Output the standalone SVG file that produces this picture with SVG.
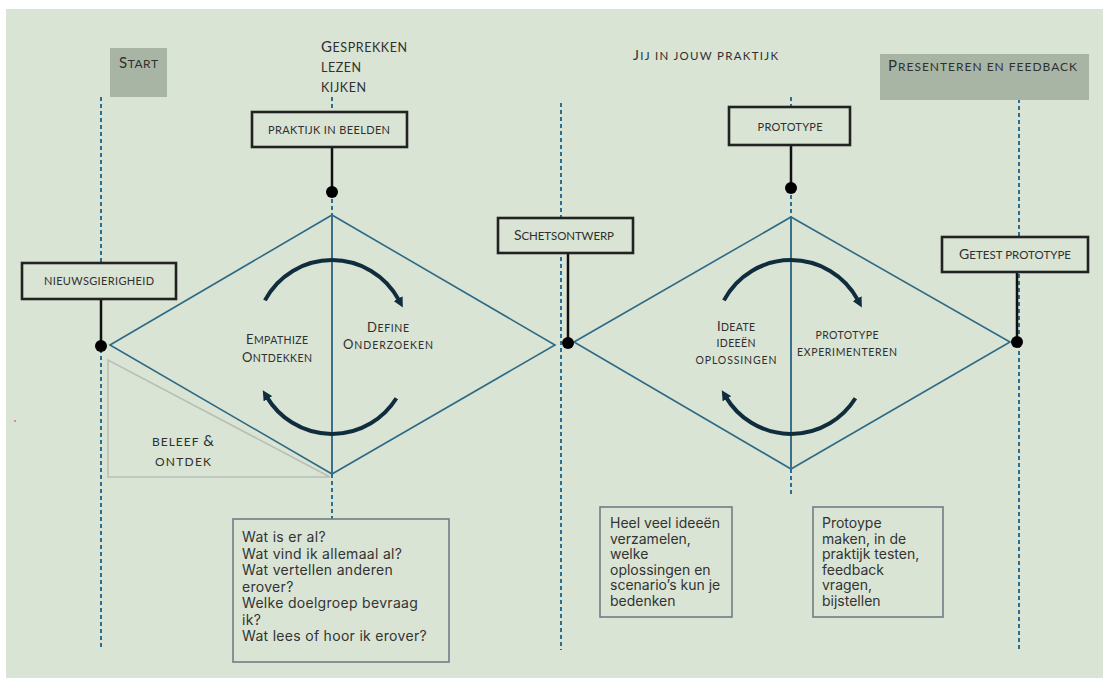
<svg xmlns="http://www.w3.org/2000/svg" width="1103" height="678" viewBox="0 0 1103 678">
<style>
.bg{fill:#d9e4d4}
.dash{stroke:#2b6f92;stroke-width:2;stroke-dasharray:4 3;fill:none}
.dia{stroke:#2d6a86;stroke-width:1.6;fill:none}
.axis{stroke:#3a7089;stroke-width:2;fill:none}
.conn{stroke:#111;stroke-width:2.5;fill:none}
.dot{fill:#000}
.box{fill:#d9e4d4;stroke:#222;stroke-width:2.6}
.gbox{fill:#a9b5a4}
.nbox{fill:#d9e4d4;stroke:#6f7e86;stroke-width:1.6}
.arc{stroke:#102d3d;stroke-width:4;fill:none;marker-end:url(#arr)}
.sc{font-family:Lato,"Liberation Sans",sans-serif;fill:#303030}
.note{font-family:Inter,"Liberation Sans",sans-serif;fill:#333;font-size:14px}
.tri{fill:none;stroke:#b9bfb5;stroke-width:1.6}
</style>
<defs>
<marker id="arr" viewBox="0 0 10 10" markerUnits="userSpaceOnUse" markerWidth="10" markerHeight="10" refX="2" refY="5" orient="auto">
<path d="M0,0 L10,5 L0,10 z" fill="#102d3d"/>
</marker>
</defs>
<rect class="bg" x="6" y="9" width="1097" height="669"/>
<rect x="14" y="420" width="2" height="2" fill="#e58a8a"/>

<g id="connectors">
<line class="dash" x1="101" y1="97" x2="101" y2="650"/>
<line class="dash" x1="332" y1="97" x2="332" y2="111"/>
<line class="dash" x1="332" y1="192" x2="332" y2="215"/>
<line class="dash" x1="332" y1="474" x2="332" y2="519"/>
<line class="dash" x1="561" y1="103" x2="561" y2="650"/>
<line class="dash" x1="791" y1="97" x2="791" y2="107"/>
<line class="dash" x1="791" y1="188" x2="791" y2="217"/>
<line class="dash" x1="791" y1="469" x2="791" y2="497"/>
<line class="dash" x1="1019" y1="99" x2="1019" y2="650"/>
<line class="conn" x1="332" y1="147" x2="332" y2="192"/>
<line class="conn" x1="791" y1="145" x2="791" y2="188"/>
<line class="conn" x1="101" y1="299" x2="101" y2="346"/>
<line class="conn" x1="568" y1="253" x2="568" y2="343"/>
<line class="conn" x1="1017" y1="271" x2="1017" y2="342"/>
</g>

<g id="beleef-ontdek">
<polygon class="tri" points="108,360 108,477 330,477"/>
<text class="sc" x="183" y="446" text-anchor="middle" textLength="62" font-size="12">BELEEF <tspan font-size="15">&amp;</tspan></text>
<text class="sc" x="183" y="466" text-anchor="middle" textLength="56" font-size="12">ONTDEK</text>
</g>

<g id="diamond-left">
<polygon class="dia" points="110,345 332,215 555,345 332,474"/>
<line class="axis" x1="332" y1="215" x2="332" y2="474"/>
<path class="arc" d="M264.9,300.4 A76,76 0 0 1 399.1,300.4"/>
<path class="arc" d="M396.4,398.3 A76,76 0 0 1 266.9,397.1"/>
<text class="sc" x="277" y="344" text-anchor="middle" textLength="62" font-size="10.5"><tspan font-size="13">E</tspan>MPATHIZE</text>
<text class="sc" x="277" y="362" text-anchor="middle" textLength="70" font-size="10.5"><tspan font-size="13">O</tspan>NTDEKKEN</text>
<text class="sc" x="388" y="332" text-anchor="middle" textLength="42" font-size="10.5"><tspan font-size="13">D</tspan>EFINE</text>
<text class="sc" x="388" y="349" text-anchor="middle" textLength="90" font-size="10.5"><tspan font-size="13">O</tspan>NDERZOEKEN</text>
</g>

<g id="diamond-right">
<polygon class="dia" points="574,342 791,217 1010,342 791,469"/>
<line class="axis" x1="791" y1="217" x2="791" y2="469"/>
<path class="arc" d="M723.9,300.4 A76,76 0 0 1 858.1,300.4"/>
<path class="arc" d="M855.4,398.3 A76,76 0 0 1 725.9,397.1"/>
<text class="sc" x="736" y="331" text-anchor="middle" textLength="38" font-size="10.5"><tspan font-size="13">I</tspan>DEATE</text>
<text class="sc" x="736" y="347" text-anchor="middle" textLength="39" font-size="10.5">IDEEËN</text>
<text class="sc" x="736" y="364" text-anchor="middle" textLength="81" font-size="10.5">OPLOSSINGEN</text>
<text class="sc" x="847" y="339" text-anchor="middle" textLength="63" font-size="10.5">PROTOTYPE</text>
<text class="sc" x="847" y="356" text-anchor="middle" textLength="100" font-size="10.5">EXPERIMENTEREN</text>
</g>

<g id="start">
<rect class="gbox" x="110" y="48" width="57" height="49"/>
<text class="sc" x="119" y="68" textLength="39" font-size="12"><tspan font-size="15">S</tspan>TART</text>
</g>

<g id="gesprekken">
<text class="sc" x="321" y="52" textLength="86" font-size="12.5"><tspan font-size="15">G</tspan>ESPREKKEN</text>
<text class="sc" x="321" y="72" textLength="40" font-size="12.5">LEZEN</text>
<text class="sc" x="321" y="92" textLength="45" font-size="12.5">KIJKEN</text>
</g>

<g id="praktijk-in-beelden">
<rect class="box" x="252" y="112" width="155" height="35"/>
<text class="sc" x="329" y="133.5" text-anchor="middle" textLength="122" font-size="11">PRAKTIJK IN BEELDEN</text>
</g>

<g id="nieuwsgierigheid">
<rect class="box" x="22" y="263" width="154" height="36"/>
<text class="sc" x="99" y="285" text-anchor="middle" textLength="110" font-size="11">NIEUWSGIERIGHEID</text>
</g>

<g id="jij-in-jouw-praktijk">
<text class="sc" x="633" y="60" textLength="145" font-size="11.5"><tspan font-size="14">J</tspan>IJ IN JOUW PRAKTIJK</text>
</g>

<g id="schetsontwerp">
<rect class="box" x="498" y="218" width="135" height="35"/>
<text class="sc" x="564" y="240" text-anchor="middle" textLength="100" font-size="11.5"><tspan font-size="14">S</tspan>CHETSONTWERP</text>
</g>

<g id="prototype">
<rect class="box" x="729" y="107" width="121" height="38"/>
<text class="sc" x="790" y="131" text-anchor="middle" textLength="65" font-size="11">PROTOTYPE</text>
</g>

<g id="presenteren">
<rect class="gbox" x="880" y="54" width="209" height="46"/>
<text class="sc" x="888" y="71" textLength="189" font-size="12"><tspan font-size="15">P</tspan>RESENTEREN EN FEEDBACK</text>
</g>

<g id="getest-prototype">
<rect class="box" x="942" y="237" width="146" height="35"/>
<text class="sc" x="1015" y="259" text-anchor="middle" textLength="112" font-size="11.5"><tspan font-size="14">G</tspan>ETEST PROTOTYPE</text>
</g>

<g id="note-empathize">
<rect class="nbox" x="233" y="519" width="216" height="143"/>
<text class="note" style="letter-spacing:0.3px">
<tspan x="242" y="542">Wat is er al?</tspan>
<tspan x="242" y="558.5">Wat vind ik allemaal al?</tspan>
<tspan x="242" y="575">Wat vertellen anderen</tspan>
<tspan x="242" y="591.5">erover?</tspan>
<tspan x="242" y="608">Welke doelgroep bevraag</tspan>
<tspan x="242" y="624.5">ik?</tspan>
<tspan x="242" y="641">Wat lees of hoor ik erover?</tspan>
</text>
</g>

<g id="note-ideate">
<rect class="nbox" x="600" y="507" width="132" height="110"/>
<text class="note">
<tspan x="610" y="528">Heel veel ideeën</tspan>
<tspan x="610" y="543.5">verzamelen,</tspan>
<tspan x="610" y="559">welke</tspan>
<tspan x="610" y="574.5">oplossingen en</tspan>
<tspan x="610" y="590">scenario’s kun je</tspan>
<tspan x="610" y="605.5">bedenken</tspan>
</text>
</g>

<g id="note-prototype">
<rect class="nbox" x="813" y="507" width="130" height="110"/>
<text class="note">
<tspan x="822" y="528">Protoype</tspan>
<tspan x="822" y="543.5">maken, in de</tspan>
<tspan x="822" y="559">praktijk testen,</tspan>
<tspan x="822" y="574.5">feedback</tspan>
<tspan x="822" y="590">vragen,</tspan>
<tspan x="822" y="605.5">bijstellen</tspan>
</text>
</g>

<g id="dots">
<circle class="dot" cx="332" cy="192" r="6"/>
<circle class="dot" cx="791" cy="188" r="6"/>
<circle class="dot" cx="101" cy="346" r="6"/>
<circle class="dot" cx="568" cy="343" r="6"/>
<circle class="dot" cx="1017" cy="342" r="6"/>
</g>
</svg>
